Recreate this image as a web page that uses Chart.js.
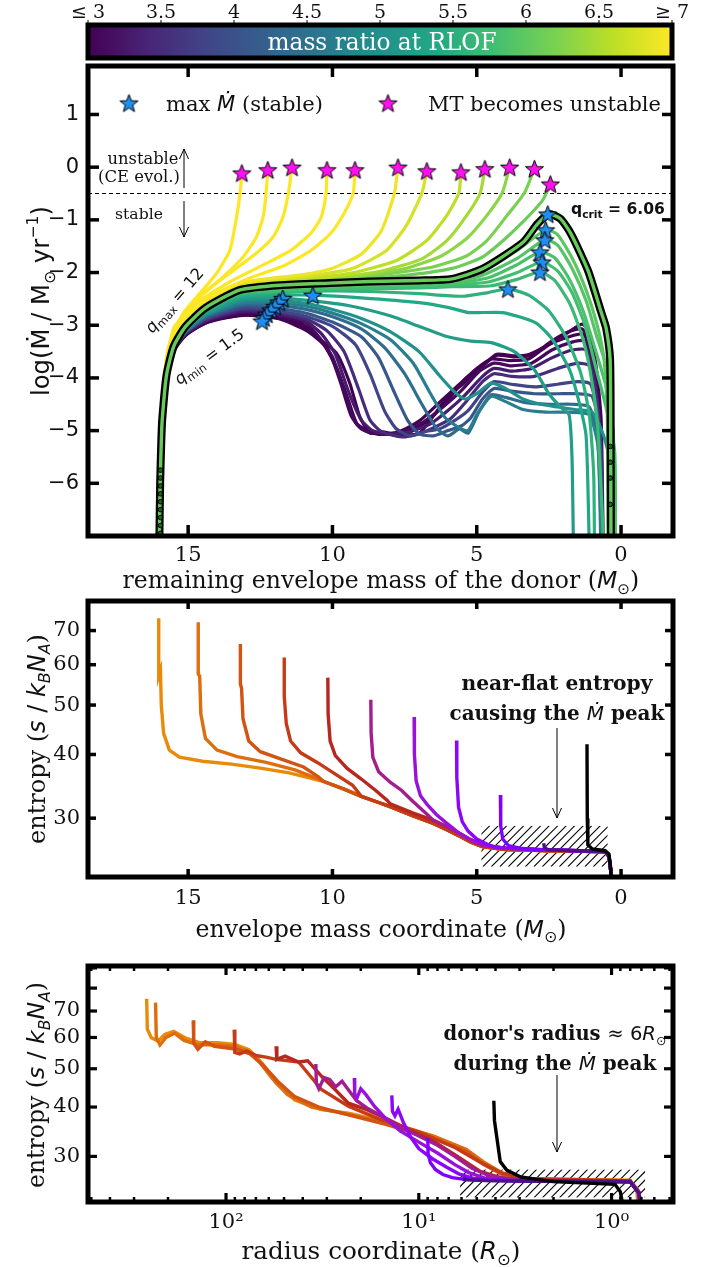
<!DOCTYPE html>
<html lang="en">
<head>
<meta charset="utf-8">
<title>Mass transfer rate and donor entropy</title>
<script src="https://cdn.jsdelivr.net/npm/chart.js@4.4.1/dist/chart.umd.min.js"></script>
<style>
  html, body { margin: 0; padding: 0; background: #fff; }
  #page { position: relative; width: 719px; height: 1267px; overflow: hidden; }
  #page canvas { position: absolute; left: 0; }
</style>
</head>
<body>
<div id="page">
  <canvas id="cbar" width="719" height="62" style="top:0px"></canvas>
  <canvas id="mdot" width="719" height="533" style="top:62px"></canvas>
  <canvas id="smass" width="719" height="350" style="top:595px"></canvas>
  <canvas id="srad" width="719" height="322" style="top:945px"></canvas>
</div>
<script>
// ---------------- colour bar ----------------
const cbarTicks = [3, 3.5, 4, 4.5, 5, 5.5, 6, 6.5, 7];
const cbarLabels = ['\u2264 3', '3.5', '4', '4.5', '5', '5.5', '6', '6.5', '\u2265 7'];

// ---------------- top panel: remaining envelope mass (Msun) vs log Mdot ----------------
// shared start of every track
const stem = [[16.0,-7.2],[15.97,-6.0],[15.93,-5.2]];

// unstable tracks (end where MT becomes unstable)
const trU1 = [[15.9,-4.65],[15.75,-3.6],[15.57,-3.22],[15.17,-2.77],[14.59,-2.39],[14.01,-2.01],[13.55,-1.57],[13.32,-0.94],[13.2,-0.5],[13.14,-0.11]];
const trU2 = [[15.9,-4.67],[15.75,-3.68],[15.5,-3.05],[15.28,-2.9],[14.7,-2.52],[13.78,-2.08],[13.09,-1.7],[12.63,-1.32],[12.4,-0.94],[12.3,-0.5],[12.24,-0.05]];
const trU3 = [[15.9,-4.69],[15.75,-3.72],[15.5,-3.2],[15.17,-2.84],[14.48,-2.39],[13.55,-2.01],[12.63,-1.63],[12.05,-1.32],[11.71,-0.94],[11.53,-0.5],[11.4,0.0]];
const trU4 = [[15.9,-4.71],[15.75,-3.76],[15.5,-3.25],[15.1,-2.9],[14.68,-2.58],[13.53,-2.17],[12.38,-1.85],[11.44,-1.58],[10.74,-1.25],[10.39,-0.95],[10.22,-0.49],[10.19,-0.05]];
const trU5 = [[15.9,-4.73],[15.75,-3.8],[15.5,-3.3],[15.1,-2.95],[14.33,-2.49],[12.94,-2.12],[11.68,-1.87],[10.74,-1.58],[10.05,-1.25],[9.59,-0.87],[9.28,-0.49],[9.22,-0.05]];
const trU6 = [[15.9,-4.75],[15.75,-3.86],[15.5,-3.32],[15.1,-2.97],[14.4,-2.55],[13.2,-2.2],[12.0,-2.1],[11.0,-2.04],[10.05,-1.93],[9.0,-1.65],[8.3,-1.2],[7.85,-0.49],[7.73,0.0]];
const trU7 = [[15.9,-4.76],[15.75,-3.88],[15.5,-3.34],[15.1,-2.98],[14.4,-2.57],[13.2,-2.23],[12.0,-2.13],[11.0,-2.08],[9.35,-1.93],[8.13,-1.58],[7.43,-1.1],[6.9,-0.49],[6.73,-0.07]];
const trU8 = [[15.9,-4.77],[15.75,-3.9],[15.5,-3.35],[15.1,-2.99],[14.4,-2.59],[13.2,-2.25],[12.0,-2.15],[11.0,-2.12],[9.35,-2.01],[7.78,-1.77],[6.73,-1.39],[6.03,-0.91],[5.62,-0.49],[5.55,-0.09]];
const trU9 = [[15.9,-4.78],[15.75,-3.91],[15.5,-3.36],[15.1,-3.0],[14.4,-2.61],[13.2,-2.27],[12.0,-2.17],[10.05,-2.1],[8.3,-1.97],[6.9,-1.74],[6.03,-1.39],[5.34,-0.91],[4.88,-0.49],[4.72,-0.03]];
const trU10 = [[15.9,-4.78],[15.75,-3.92],[15.5,-3.37],[15.1,-3.01],[14.4,-2.62],[13.2,-2.29],[12.0,-2.19],[9.35,-2.08],[7.6,-1.94],[6.21,-1.68],[5.34,-1.35],[4.64,-0.91],[4.12,-0.49],[3.86,0.0]];
const trU11 = [[15.9,-4.79],[15.75,-3.93],[15.5,-3.38],[15.1,-3.02],[14.4,-2.64],[13.2,-2.3],[12.0,-2.2],[10.0,-2.14],[8.3,-2.04],[6.56,-1.9],[5.34,-1.68],[4.64,-1.39],[3.94,-0.91],[3.35,-0.49],[3.0,-0.03]];
const trU12 = [[15.9,-4.79],[15.75,-3.94],[15.5,-3.39],[15.1,-3.02],[14.4,-2.65],[13.2,-2.31],[12.0,-2.21],[10.0,-2.16],[7.6,-2.06],[5.86,-1.92],[4.81,-1.71],[4.12,-1.41],[3.42,-1.05],[2.72,-0.63],[2.45,-0.32]];

// critical track, q_crit = 6.06
const qCrit = 6.06;
const trCrit = [[15.9,-4.8],[15.75,-3.95],[15.5,-3.4],[15.1,-3.03],[14.4,-2.67],[13.2,-2.33],[11.82,-2.24],[10.09,-2.2],[8.7,-2.17],[7.0,-2.15],[5.86,-2.12],[4.8,-1.93],[3.4,-1.43],[2.9,-1.08],[2.5,-0.89],[2.1,-0.98],[1.73,-1.27],[1.14,-1.97],[0.69,-2.75],[0.52,-3.05],[0.38,-3.64],[0.36,-5.0],[0.35,-7.2]];

// stable tracks
const trS1 = [[15.9,-4.81],[15.75,-3.96],[15.5,-3.4],[15.1,-3.04],[14.4,-2.68],[13.2,-2.35],[11.82,-2.27],[10.09,-2.23],[8.7,-2.2],[7.0,-2.18],[5.86,-2.15],[4.8,-1.98],[3.6,-1.58],[2.61,-1.19],[2.2,-1.28],[1.7,-1.72],[1.2,-2.35],[0.85,-2.95],[0.6,-3.6],[0.48,-4.6],[0.45,-7.2]];
const trS2 = [[15.9,-4.81],[15.75,-3.96],[15.5,-3.41],[15.1,-3.04],[14.4,-2.69],[13.2,-2.36],[11.82,-2.29],[10.09,-2.26],[8.7,-2.23],[7.0,-2.21],[5.86,-2.18],[4.8,-2.05],[3.6,-1.73],[2.64,-1.38],[2.2,-1.48],[1.7,-1.92],[1.2,-2.55],[0.85,-3.2],[0.5,-3.8],[0.32,-4.6],[0.3,-7.2]];
const trS3 = [[15.9,-4.82],[15.75,-3.96],[15.5,-3.41],[15.1,-3.05],[14.4,-2.7],[13.2,-2.37],[11.82,-2.31],[10.09,-2.28],[8.7,-2.25],[7.0,-2.23],[5.86,-2.21],[4.6,-2.1],[3.6,-1.85],[2.81,-1.61],[2.3,-1.72],[1.8,-2.12],[1.3,-2.75],[0.9,-3.45],[0.5,-4.2],[0.27,-5.0],[0.25,-7.2]];
const trS4 = [[15.9,-4.82],[15.75,-3.97],[15.5,-3.41],[15.1,-3.05],[14.4,-2.71],[13.2,-2.39],[11.82,-2.33],[10.09,-2.3],[8.7,-2.28],[7.0,-2.26],[5.86,-2.24],[4.6,-2.18],[3.6,-2.0],[2.74,-1.8],[2.2,-1.97],[1.7,-2.38],[1.25,-3.0],[0.9,-3.75],[0.5,-4.6],[0.22,-5.4],[0.2,-7.2]];
const trS5 = [[15.9,-4.83],[15.75,-3.97],[15.5,-3.42],[15.1,-3.06],[14.4,-2.71],[13.2,-2.4],[11.82,-2.35],[10.09,-2.32],[8.7,-2.31],[7.0,-2.29],[5.86,-2.27],[4.5,-2.25],[3.6,-2.13],[2.81,-1.99],[2.3,-2.15],[1.75,-2.62],[1.3,-3.3],[1.0,-4.1],[0.8,-5.0],[0.6,-7.2]];
const trS6 = [[15.9,-4.84],[15.75,-3.98],[15.5,-3.42],[15.1,-3.06],[14.4,-2.73],[13.2,-2.43],[11.82,-2.38],[10.09,-2.35],[8.7,-2.36],[7.0,-2.4],[5.5,-2.45],[4.6,-2.38],[3.92,-2.31],[3.2,-2.43],[2.5,-2.73],[1.9,-3.23],[1.4,-3.9],[1.1,-4.7],[0.95,-5.8],[0.92,-7.2]];
const trT3 = [[15.9,-4.85],[15.75,-3.99],[15.5,-3.43],[15.1,-3.08],[14.4,-2.75],[13.2,-2.46],[11.82,-2.43],[10.68,-2.43],[9.0,-2.48],[7.0,-2.57],[6.0,-2.66],[5.28,-2.76],[4.1,-2.76],[2.97,-2.95],[2.38,-3.27],[1.79,-3.84],[1.45,-4.47],[1.21,-5.11],[1.1,-7.2]];
const trT2 = [[15.9,-4.87],[15.75,-4.0],[15.5,-3.44],[15.1,-3.09],[14.4,-2.78],[13.2,-2.5],[11.99,-2.47],[11.0,-2.52],[9.5,-2.62],[8.0,-2.82],[7.0,-3.02],[6.0,-3.22],[5.2,-3.3],[4.5,-3.33],[3.7,-3.5],[3.0,-3.85],[2.5,-4.3],[2.1,-4.55],[1.8,-4.7],[1.7,-5.5],[1.65,-7.2]];
const trT1 = [[15.9,-4.88],[15.75,-4.01],[15.5,-3.44],[15.1,-3.1],[14.4,-2.8],[13.2,-2.54],[12.13,-2.52],[11.0,-2.58],[10.0,-2.7],[9.0,-2.87],[8.0,-3.12],[7.0,-3.5],[6.3,-3.95],[5.8,-4.25],[5.4,-4.4],[5.0,-4.3],[4.5,-4.1],[4.0,-4.2],[3.4,-4.4],[2.8,-4.5],[2.2,-4.55],[1.6,-4.6],[1.0,-4.65],[0.6,-5.1],[0.3,-5.8],[0.27,-7.2]];
const trB1 = [[15.9,-4.9],[15.75,-4.03],[15.5,-3.45],[15.1,-3.12],[14.4,-2.82],[13.2,-2.58],[12.27,-2.56],[11.0,-2.63],[10.0,-2.77],[9.0,-2.97],[8.0,-3.27],[7.2,-3.72],[6.6,-4.3],[6.1,-4.75],[5.6,-4.95],[5.3,-5.0],[5.0,-4.7],[4.5,-4.35],[4.0,-4.45],[3.4,-4.6],[2.6,-4.65],[1.8,-4.65],[1.1,-4.7],[0.8,-5.3],[0.7,-7.2]];
const trP9 = [[15.9,-4.91],[15.75,-4.04],[15.5,-3.46],[15.1,-3.13],[14.4,-2.84],[13.2,-2.61],[12.37,-2.6],[11.0,-2.69],[10.0,-2.84],[9.0,-3.07],[8.2,-3.42],[7.5,-3.92],[6.9,-4.5],[6.4,-4.95],[6.0,-5.1],[5.6,-4.97],[5.3,-5.05],[4.9,-4.62],[4.5,-4.32],[4.0,-4.37],[3.3,-4.47],[2.5,-4.5],[1.7,-4.5],[1.1,-4.55],[0.8,-5.2],[0.68,-7.2]];
const trP8 = [[15.9,-4.93],[15.75,-4.05],[15.5,-3.46],[15.1,-3.14],[14.4,-2.86],[13.2,-2.64],[12.44,-2.64],[11.0,-2.76],[10.0,-2.94],[9.0,-3.22],[8.4,-3.62],[7.9,-4.22],[7.4,-4.8],[7.0,-5.06],[6.5,-5.1],[6.0,-5.0],[5.5,-4.9],[5.2,-4.75],[4.8,-4.4],[4.4,-4.2],[3.8,-4.25],[3.0,-4.3],[2.2,-4.3],[1.5,-4.3],[1.0,-4.35],[0.75,-5.0],[0.65,-7.2]];
const trP7 = [[15.9,-4.94],[15.75,-4.06],[15.5,-3.47],[15.1,-3.15],[14.4,-2.88],[13.2,-2.68],[12.5,-2.68],[11.0,-2.82],[10.0,-3.02],[9.2,-3.37],[8.7,-3.92],[8.2,-4.62],[7.8,-4.96],[7.3,-5.1],[6.8,-5.02],[6.3,-4.97],[5.8,-4.82],[5.3,-4.62],[4.8,-4.27],[4.4,-4.07],[3.8,-4.12],[3.0,-4.17],[2.2,-4.12],[1.5,-4.07],[1.05,-4.12],[0.8,-4.8],[0.65,-7.2]];
const trP6 = [[15.9,-4.96],[15.75,-4.07],[15.5,-3.48],[15.1,-3.16],[14.4,-2.9],[13.2,-2.71],[12.6,-2.71],[11.0,-2.86],[10.2,-3.1],[9.6,-3.5],[9.1,-4.2],[8.7,-4.8],[8.3,-5.02],[7.6,-5.12],[7.0,-5.06],[6.4,-4.92],[5.9,-4.77],[5.4,-4.47],[4.8,-4.07],[4.4,-3.92],[3.8,-3.97],[3.0,-3.97],[2.2,-3.82],[1.5,-3.72],[1.1,-3.77],[0.85,-4.4],[0.68,-5.5],[0.63,-7.2]];
const trP5 = [[15.9,-4.97],[15.75,-4.08],[15.5,-3.48],[15.1,-3.17],[14.4,-2.92],[13.2,-2.74],[12.6,-2.74],[11.0,-2.9],[10.4,-3.15],[9.9,-3.55],[9.45,-4.25],[9.0,-4.8],[8.6,-5.0],[8.0,-5.07],[7.3,-5.02],[6.6,-4.87],[6.0,-4.62],[5.4,-4.32],[4.8,-3.97],[4.4,-3.82],[3.8,-3.87],[3.1,-3.82],[2.4,-3.62],[1.7,-3.47],[1.2,-3.47],[0.9,-4.1],[0.7,-5.3],[0.64,-7.2]];
const trP4 = [[15.9,-4.98],[15.75,-4.08],[15.5,-3.49],[15.1,-3.18],[14.4,-2.94],[13.2,-2.77],[12.7,-2.77],[11.0,-2.93],[10.5,-3.2],[10.0,-3.6],[9.55,-4.3],[9.2,-4.85],[8.8,-5.02],[8.2,-5.07],[7.5,-5.02],[6.8,-4.82],[6.1,-4.52],[5.5,-4.22],[4.9,-3.87],[4.4,-3.72],[3.8,-3.77],[3.1,-3.72],[2.4,-3.47],[1.7,-3.32],[1.25,-3.3],[0.95,-3.8],[0.72,-5.0],[0.64,-7.2]];
const trP3 = [[15.9,-4.99],[15.75,-4.09],[15.5,-3.49],[15.1,-3.19],[14.4,-2.95],[13.2,-2.79],[12.8,-2.79],[11.2,-2.93],[10.6,-3.17],[10.1,-3.52],[9.7,-4.12],[9.35,-4.72],[9.0,-4.97],[8.4,-5.07],[7.7,-5.02],[7.0,-4.82],[6.3,-4.47],[5.6,-4.12],[5.0,-3.82],[4.5,-3.64],[3.9,-3.67],[3.2,-3.64],[2.5,-3.37],[1.8,-3.22],[1.3,-3.17],[1.0,-3.57],[0.75,-4.8],[0.64,-7.2]];
const trP2 = [[15.9,-4.99],[15.75,-4.1],[15.5,-3.5],[15.1,-3.2],[14.4,-2.96],[13.2,-2.81],[12.9,-2.81],[11.83,-2.88],[10.9,-3.1],[10.3,-3.37],[9.85,-3.82],[9.45,-4.42],[9.15,-4.87],[8.7,-5.02],[8.0,-5.07],[7.3,-5.02],[6.6,-4.77],[6.0,-4.42],[5.4,-4.02],[4.8,-3.77],[4.3,-3.57],[3.7,-3.6],[3.1,-3.57],[2.4,-3.3],[1.8,-3.12],[1.35,-3.07],[1.05,-3.37],[0.8,-4.5],[0.64,-7.2]];
const trP1 = [[15.9,-5.0],[15.75,-4.1],[15.52,-3.47],[14.94,-3.12],[14.13,-2.9],[12.97,-2.81],[12.05,-2.84],[11.24,-2.96],[10.55,-3.22],[9.86,-3.53],[9.4,-4.1],[9.05,-4.74],[8.7,-5.05],[8.3,-5.02],[7.7,-5.08],[7.0,-5.05],[6.5,-4.72],[6.0,-4.35],[5.45,-4.1],[4.76,-3.75],[4.31,-3.55],[3.72,-3.58],[3.17,-3.55],[2.48,-3.36],[1.79,-3.12],[1.34,-2.98],[1.1,-3.13],[0.86,-3.8],[0.69,-4.8],[0.62,-7.2]];

// mass ratio at RLOF of each track (same order as trackPts)
const trackQ = [12, 10, 9, 8, 7.2, 6.9, 6.75, 6.6, 6.45, 6.3, 6.2, 6.1,
                5.98, 5.92, 5.85, 5.78, 5.7, 5.55, 5.4, 5.2, 5.0, 4.7,
                4.4, 4.1, 3.8, 3.5, 3.3, 3.1, 2.8, 2.3, 1.5];
const trackPts = [trU1, trU2, trU3, trU4, trU5, trU6, trU7, trU8, trU9, trU10, trU11, trU12,
                  trS1, trS2, trS3, trS4, trS5, trS6, trT3, trT2, trT1, trB1,
                  trP9, trP8, trP7, trP6, trP5, trP4, trP3, trP2, trP1];

// star markers
const maxMdotM   = [2.54, 2.61, 2.64, 2.81, 2.74, 2.81, 3.92, 10.68, 11.72, 11.85, 11.99, 12.13, 12.27, 12.37, 12.44];
const maxMdotLog = [-0.89, -1.19, -1.38, -1.61, -1.80, -1.99, -2.31, -2.43, -2.49, -2.56, -2.64, -2.71, -2.79, -2.86, -2.92];
const unstableM   = [13.14, 12.24, 11.40, 10.19, 9.22, 7.73, 6.73, 5.55, 4.72, 3.86, 3.00, 2.45];
const unstableLog = [-0.11, -0.05, 0.00, -0.05, -0.05, 0.00, -0.07, -0.09, -0.03, 0.00, -0.03, -0.32];

// dotted ends of the critical track
const dotsStartY = [-5.75, -5.9, -6.05, -6.2, -6.35, -6.5, -6.65, -6.8, -6.95];
const dotsEndY = [-5.3, -5.6, -5.9, -6.4];

// ---------------- middle panel: envelope mass coordinate vs entropy ----------------
const massTailLow  = [[10.3,35.4],[9.6,34.2],[9.0,33.1],[8.4,32.2],[8.0,31.6],[7.2,30.3],[6.5,29.3],[6.0,28.4],[5.5,27.5],[5.2,26.9],[4.8,26.4],[4.3,26.15],[4.0,26.05],[3.0,25.95],[2.5,25.9],[1.5,25.85],[0.55,25.75],[0.42,25.2],[0.35,23.5],[0.32,21.0]];
const massTailHigh = [[10.3,35.7],[9.6,34.6],[9.0,33.5],[8.4,32.6],[8.0,32.0],[7.2,30.7],[6.5,29.7],[6.0,28.8],[5.5,27.8],[5.2,27.2],[4.8,26.6],[4.3,26.3],[4.0,26.2],[3.0,26.05],[2.5,26.0],[1.5,25.9],[0.55,25.8],[0.42,25.3],[0.35,23.5],[0.32,21.0]];
const prM1 = [[16.02,74],[16.02,57],[15.96,58.5],[15.93,50],[15.85,44],[15.65,40.8],[15.3,39.5],[14.5,38.8],[13.5,38.3],[12.5,37.6],[11.5,36.8],[10.8,36.0]];
const prM2 = [[14.65,72.7],[14.65,57.5],[14.6,57],[14.56,48],[14.4,43],[14.0,40.8],[13.3,39.6],[12.3,38.6],[11.3,37.3],[10.6,36.0]];
const prM3 = [[13.19,65.9],[13.19,55],[13.15,54],[13.1,47],[12.9,42.5],[12.5,40.5],[11.8,39.2],[11.0,37.8],[10.5,36.2]];
const prM4 = [[11.67,62],[11.67,52],[11.6,46],[11.45,42.5],[11.1,40.3],[10.5,38.5],[9.9,36.6],[9.3,34.8]];
const prM5 = [[10.16,56.6],[10.15,48],[10.08,42.5],[9.9,39.8],[9.5,37.6],[9.0,35.8],[8.5,34.0],[8.1,32.5]];
const prM6 = [[8.67,51.2],[8.66,44],[8.6,39.5],[8.4,37.0],[8.0,35.3],[7.6,34.0],[7.2,32.3],[6.8,30.8]];
const prM7 = [[7.17,47.4],[7.16,40],[7.1,35.5],[6.95,33.2],[6.7,31.8],[6.4,30.5],[6.1,29.5],[5.7,28.3]];
const prM8 = [[5.7,42.6],[5.69,36],[5.63,31.5],[5.5,29.5],[5.3,28.3],[5.0,27.3],[4.6,26.6]];
const prM9 = [[4.18,33.3],[4.17,29],[4.1,27.3],[3.9,26.5],[3.5,26.2]];
const prM10 = [[2.68,26.8],[2.66,26.3],[2.55,26.05]];
const prMCrit = [[1.18,41.9],[1.17,30],[1.15,26.6],[1.0,26.1],[0.55,25.9],[0.42,25.5],[0.36,24],[0.33,21]];
const hatchMass = [4.84, 0.47];
const hatchMassS = [24.1, 29.0];

// ---------------- bottom panel: radius coordinate (Rsun) vs entropy ----------------
const prR1 = [[258,75.2],[256,63],[244,59.9],[225,58.7],[208,61.1],[187,62.2],[163,59.9],[138,58.2],[111,58.2],[90,57.6],[76,55.9],[65,51.7],[55,46],[44,41.7],[32,39.4],[23.2,38.6],[14.2,36.5],[8.3,33.7],[5.66,31.2],[4.56,28.9],[3.67,27.2],[2.8,26.4],[1.24,26.2],[0.81,26.1],[0.74,24.7],[0.72,21]];
const prR2 = [[232,73.5],[230,60],[220,57.5],[205,60],[185,61.5],[165,59],[140,57.5],[112,57.5],[92,57],[78,55.5],[68,52.5],[58,47.5],[48,43],[36,40],[25,38.6],[15,36.6],[8.5,33.8],[5.7,31.3],[4.6,29],[3.7,27.2],[2.8,26.35],[1.24,26.15],[0.8,26.05],[0.73,24.6],[0.71,21]];
const prR3 = [[148,66.3],[147,58],[140,56],[128,58.5],[115,57],[100,56.5],[88,56],[75,54.5],[64,51],[54,46.5],[44,42.5],[33,40],[24,38.4],[15,36.2],[8.5,33.4],[5.7,30.9],[4.6,28.6],[3.7,27],[2.8,26.25],[1.24,26.1],[0.8,26],[0.72,24.4],[0.7,21]];
const prR4 = [[90.7,62.8],[90,55],[85,54.5],[78,55.5],[70,54],[62,53.5],[55,52.8],[42,52],[32,44.3],[23.2,40.2],[16,37.3],[10,34.6],[6.5,31.6],[4.8,29],[3.7,27.2],[2.7,26.3],[1.24,26.1],[0.8,26],[0.72,24.3],[0.7,21]];
const prR5 = [[55,57],[54.5,52.8],[49.4,53.8],[42,52],[37.7,52.4],[32,47.9],[27.2,44.3],[23.2,40.9],[18.6,39.4],[14.2,37.1],[10.8,34.7],[8.3,32.7],[6.3,30],[4.8,27.5],[3.67,26.4],[2.6,26.1],[1.24,26.05],[0.8,25.95],[0.72,24.3],[0.7,21]];
const prR6 = [[34.2,51.4],[34,46],[33,44.5],[31,47.5],[29,47],[27,45],[25,46.5],[23,44],[21,41.5],[18.6,39.8],[15,37.6],[12,35.2],[10,33.8],[8,32],[6.5,30],[5.3,28],[4.3,26.8],[3.4,26.3],[2.6,26.1],[1.24,26],[0.8,25.9],[0.72,24.2],[0.7,21]];
const prR7 = [[21.6,47.4],[21.5,43],[21,42],[20,44.5],[18.8,43],[17,40.2],[15,37.6],[12.5,34.8],[10,32.6],[8,30.6],[6.5,28.6],[5.5,27.3],[4.5,26.4],[3.5,26.1],[2.6,26],[1.24,25.95],[0.8,25.9],[0.72,24.2],[0.7,21]];
const prR8 = [[13.8,42.8],[13.7,39],[13.3,38],[12.8,39.5],[12,36.5],[11,33.5],[10,31.4],[8.5,29.6],[7.2,28.2],[6.2,27.1],[5.2,26.4],[4.3,26.15],[3.3,26.05],[2.6,26],[1.24,25.95],[0.8,25.9],[0.72,24.2],[0.7,21]];
const prR9 = [[8.98,33.4],[8.95,30.5],[8.7,28.9],[8.2,27.8],[7.5,27.0],[6.7,26.5],[5.8,26.25],[4.5,26.1],[2.6,26],[1.24,25.95],[0.8,25.9],[0.72,24.2],[0.7,21]];
const prR10 = [[5.82,26.6],[5.8,26.2],[4.5,26.05],[2.6,25.95],[1.24,25.9],[0.8,25.85],[0.72,24.2],[0.7,21]];
const prRCrit = [[4.08,41.5],[4.05,37],[4.0,35.4],[3.78,29.1],[3.5,27.7],[2.96,26.6],[2.0,25.9],[0.96,25.5],[0.9,24.4],[0.85,21]];
const hatchRad = [6.1, 0.67];
const hatchRadS = [23.6, 27.8];

// ---------------- helpers ----------------
const SERIF = "'DejaVu Serif', 'Liberation Serif', serif";
const SANS = "'DejaVu Sans', 'Liberation Sans', sans-serif";
const VIR = ['#440154','#482475','#414487','#355f8d','#2a788e','#21918c','#22a884','#44bf70','#7ad151','#bddf26','#fde725'];
const profColors = ['#e98a0b','#de6d0e','#d25312','#c63b17','#b7261f','#a41d90','#9a12d8','#8c06f7','#8000ff','#4a1480'];

function hexRgb(h) { return [1, 3, 5].map(k => parseInt(h.substr(k, 2), 16)); }
function viridis(t) {
  t = Math.max(0, Math.min(1, t));
  const f = t * 10, i = Math.min(9, Math.floor(f)), u = f - i;
  const a = hexRgb(VIR[i]), b = hexRgb(VIR[i + 1]);
  return 'rgb(' + a.map((v, k) => Math.round(v + (b[k] - v) * u)).join(',') + ')';
}
function qColor(q) { return viridis((q - 3) / 4); }
function xy(arr) { return arr.map(p => ({x: p[0], y: p[1]})); }
function lineSet(arr, color, width, tension) {
  return {data: xy(arr), showLine: true, borderColor: color, backgroundColor: color,
          borderWidth: width, pointRadius: 0, tension: tension || 0, fill: false};
}
function starImage(fill, r) {
  const c = document.createElement('canvas');
  const s = Math.ceil(2 * r + 4);
  c.width = s; c.height = s;
  const g = c.getContext('2d');
  g.translate(s / 2, s / 2 + r * 0.1);
  g.beginPath();
  for (let i = 0; i < 10; i++) {
    const rr = i % 2 ? r * 0.42 : r, ang = -Math.PI / 2 + i * Math.PI / 5;
    g.lineTo(rr * Math.cos(ang), rr * Math.sin(ang));
  }
  g.closePath();
  g.fillStyle = fill; g.fill();
  g.lineWidth = 1; g.strokeStyle = '#000'; g.stroke();
  return c;
}
const starBlue = starImage('#1f8ef0', 9.5);
const starPink = starImage('#ff10f0', 9.5);

// rich text: parts = [text, size, family, style, dy]
function rich(ctx, parts, x, y, o) {
  o = o || {};
  const fnt = (p, k) => (p[3] || '') + ' ' + (p[1] * k).toFixed(2) + 'px ' + p[2];
  let w = 0;
  parts.forEach(p => { ctx.font = fnt(p, 1); w += ctx.measureText(p[0]).width; });
  const k = o.width ? o.width / w : 1;
  const main = parts[0][1] * k;
  ctx.save();
  ctx.translate(x, y);
  if (o.angle) ctx.rotate(o.angle);
  ctx.fillStyle = o.color || '#111';
  ctx.textAlign = 'left';
  ctx.textBaseline = 'alphabetic';
  let cx = o.align === 'left' ? 0 : o.align === 'right' ? -w * k : -w * k / 2;
  parts.forEach(p => {
    ctx.font = fnt(p, k);
    ctx.fillText(p[0], cx, main * 0.36 + (p[4] || 0) * k);
    cx += ctx.measureText(p[0]).width;
  });
  ctx.restore();
}
function seg(ctx, x1, y1, x2, y2) { ctx.beginPath(); ctx.moveTo(x1, y1); ctx.lineTo(x2, y2); ctx.stroke(); }
function arrow(ctx, x, y0, y1) {
  ctx.save(); ctx.strokeStyle = '#000'; ctx.lineWidth = 1;
  seg(ctx, x, y0, x, y1);
  const d = y1 > y0 ? -1 : 1;
  seg(ctx, x, y1, x - 4.5, y1 + d * 10);
  seg(ctx, x, y1, x + 4.5, y1 + d * 10);
  ctx.restore();
}
function hatch(ctx, x0, y0, x1, y1, gap) {
  ctx.save();
  ctx.beginPath(); ctx.rect(x0, y0, x1 - x0, y1 - y0); ctx.clip();
  ctx.strokeStyle = '#000'; ctx.lineWidth = 1.1;
  const h = y1 - y0;
  for (let x = x0 - h; x < x1 + h; x += gap) seg(ctx, x, y1, x + h, y0);
  ctx.restore();
}
function frameTicks(chart, o) {
  const ctx = chart.ctx, a = chart.chartArea, xs = chart.scales.x, ys = chart.scales.y;
  ctx.save();
  ctx.strokeStyle = '#000';
  ctx.lineWidth = o.w;
  (o.xMajor || []).forEach(v => { const p = xs.getPixelForValue(v); seg(ctx, p, a.bottom, p, a.bottom - o.len); seg(ctx, p, a.top, p, a.top + o.len); });
  (o.yMajor || []).forEach(v => { const p = ys.getPixelForValue(v); seg(ctx, a.left, p, a.left + o.len, p); seg(ctx, a.right, p, a.right - o.len, p); });
  ctx.lineWidth = o.minorW || o.w;
  (o.xMinor || []).forEach(v => { const p = xs.getPixelForValue(v); seg(ctx, p, a.bottom, p, a.bottom - o.minorLen); seg(ctx, p, a.top, p, a.top + o.minorLen); });
  ctx.lineWidth = o.frame;
  ctx.strokeRect(a.left, a.top, a.right - a.left, a.bottom - a.top);
  ctx.restore();
}

const extras = {};
const decor = {
  id: 'decor',
  beforeDatasetsDraw(chart) { const e = extras[chart.canvas.id]; if (e && e.under) e.under(chart); },
  afterDatasetsDraw(chart) { const e = extras[chart.canvas.id]; if (e && e.over) e.over(chart); }
};

function fixedTicks(vals) { return s => { s.ticks = vals.map(v => ({value: v})); }; }
// force axis size and drop the label overhang padding so the plot box lands where we want it
function fixSize(dim, px) {
  return s => { s[dim] = px; s.paddingTop = 0; s.paddingBottom = 0; s.paddingLeft = 0; s.paddingRight = 0; };
}
function baseOptions(pad) {
  return {
    responsive: false, animation: false, devicePixelRatio: 1, events: [],
    layout: {padding: pad, autoPadding: false},
    plugins: {legend: {display: false}, tooltip: {enabled: false}}
  };
}
const tickFont = (fam, size) => ({font: {family: fam, size: size}, color: '#111', autoSkip: false, maxRotation: 0, minRotation: 0});

// ---------------- colour bar chart ----------------
extras.cbar = {
  over(chart) {
    const ctx = chart.ctx, a = chart.chartArea, xs = chart.scales.x;
    const g = ctx.createLinearGradient(a.left, 0, a.right, 0);
    VIR.forEach((c, i) => g.addColorStop(i / 10, c));
    ctx.save();
    ctx.fillStyle = g;
    ctx.fillRect(a.left, a.top, a.right - a.left, a.bottom - a.top);
    ctx.lineWidth = 5; ctx.strokeStyle = '#000';
    ctx.strokeRect(a.left, a.top, a.right - a.left, a.bottom - a.top);
    ctx.lineWidth = 1;
    cbarTicks.forEach(v => { const p = xs.getPixelForValue(v); seg(ctx, p, a.top - 2, p, a.top - 5); });
    ctx.restore();
    rich(ctx, [['mass ratio at RLOF', 21, SERIF]], 382, 42, {width: 229, color: '#fff'});
  }
};
new Chart(document.getElementById('cbar'), {
  type: 'scatter',
  data: {datasets: [{data: []}]},
  options: Object.assign(baseOptions({left: 88, right: 47, top: 0, bottom: 4}), {
    scales: {
      x: {type: 'linear', position: 'top', min: 3, max: 7,
          afterBuildTicks: fixedTicks(cbarTicks), afterFit: fixSize('height', 25),
          grid: {display: false, drawTicks: false}, border: {display: false},
          ticks: Object.assign(tickFont(SERIF, 19), {padding: 1,
            callback: v => cbarLabels[cbarTicks.indexOf(v)]})},
      y: {display: false, min: 0, max: 1}
    }
  }),
  plugins: [decor]
});

// ---------------- top panel chart ----------------
const topSets = [];
topSets.push({data: maxMdotM.map((m, i) => ({x: m, y: maxMdotLog[i]})), pointStyle: starBlue, pointRadius: 10, showLine: false});
topSets.push({data: unstableM.map((m, i) => ({x: m, y: unstableLog[i]})), pointStyle: starPink, pointRadius: 10, showLine: false});
topSets.push({data: dotsStartY.map(v => ({x: 15.96, y: v})).concat(dotsEndY.map(v => ({x: 0.37, y: v}))),
              pointRadius: 2.3, pointBackgroundColor: '#245c24', pointBorderColor: '#000', pointBorderWidth: 1, showLine: false});
topSets.push(lineSet(stem.concat(trCrit), qColor(qCrit), 3.4, 0.2));
topSets.push(lineSet(stem.concat(trCrit), '#000', 8, 0.2));
trackPts.forEach((pts, i) => topSets.push(lineSet(stem.concat(pts), qColor(trackQ[i]), 3.2, 0.2)));

extras.mdot = {
  under(chart) {
    const ctx = chart.ctx, a = chart.chartArea, ys = chart.scales.y;
    const yy = ys.getPixelForValue(-0.5);
    ctx.save(); ctx.setLineDash([4, 3]); ctx.lineWidth = 1.1; ctx.strokeStyle = '#000';
    seg(ctx, a.left, yy, a.right, yy); ctx.restore();
  },
  over(chart) {
    const ctx = chart.ctx;
    frameTicks(chart, {xMajor: [15, 10, 5, 0], yMajor: [-6, -5, -4, -3, -2, -1, 0, 1], len: 11, w: 3.5, frame: 5});
    // legend
    ctx.drawImage(starBlue, 129 - starBlue.width / 2, 41 - starBlue.height / 2);
    rich(ctx, [['max ', 19, SERIF], ['\u1E40', 19, SANS, 'italic'], [' (stable)', 19, SERIF]], 166, 41, {align: 'left', width: 157});
    ctx.drawImage(starPink, 388 - starPink.width / 2, 41 - starPink.height / 2);
    rich(ctx, [['MT becomes unstable', 19, SERIF]], 428, 41, {align: 'left', width: 233});
    // stability annotations
    rich(ctx, [['unstable', 15, SERIF]], 143, 96, {width: 71});
    rich(ctx, [['(CE evol.)', 15, SERIF]], 139, 114, {width: 82});
    rich(ctx, [['stable', 15, SERIF]], 139, 151, {width: 48});
    arrow(ctx, 184, 126, 87);
    arrow(ctx, 184, 139, 175);
    rich(ctx, [['q', 16, SANS, 'bold'], ['crit', 11, SANS, 'bold', 4], [' = 6.06', 16, SANS, 'bold']], 665, 146, {align: 'right', width: 94});
    rich(ctx, [['q', 17, SANS, 'italic'], ['max', 12, SANS, '', 4], [' = 12', 17, SANS]], 174, 238, {angle: -49 * Math.PI / 180, width: 80});
    rich(ctx, [['q', 17, SANS, 'italic'], ['min', 12, SANS, '', 4], [' = 1.5', 17, SANS]], 209, 294, {angle: -36.6 * Math.PI / 180, width: 82});
    // axis titles
    rich(ctx, [['remaining envelope mass of the donor (', 20, SERIF], ['M', 20, SANS, 'italic'], ['\u2299', 13, SANS, '', 5], [')', 20, SERIF]], 381, 518, {width: 517});
    rich(ctx, [['log(', 20, SANS], ['\u1E40', 20, SANS], [' / M', 20, SANS], ['\u2299', 13, SANS, '', 5], [' yr', 20, SANS], ['\u22121', 13, SANS, '', -9], [')', 20, SANS]], 40, 239, {angle: -Math.PI / 2, width: 190});
  }
};
new Chart(document.getElementById('mdot'), {
  type: 'scatter',
  data: {datasets: topSets},
  options: Object.assign(baseOptions({left: 0, right: 46, top: 4, bottom: 0}), {
    scales: {
      x: {type: 'linear', min: -1.8, max: 18.47, reverse: true,
          afterBuildTicks: fixedTicks([15, 10, 5, 0]), afterFit: fixSize('height', 59),
          grid: {display: false, drawTicks: false}, border: {display: false},
          ticks: Object.assign(tickFont(SERIF, 21), {padding: 7})},
      y: {type: 'linear', min: -7, max: 1.92,
          afterBuildTicks: fixedTicks([-6, -5, -4, -3, -2, -1, 0, 1]), afterFit: fixSize('width', 88),
          grid: {display: false, drawTicks: false}, border: {display: false},
          ticks: Object.assign(tickFont(SANS, 21), {padding: 9,
            callback: v => v < 0 ? '\u2212' + Math.abs(v) : String(v)})}
    }
  }),
  plugins: [decor]
});

// ---------------- middle panel chart ----------------
const massHeads = [prM1, prM2, prM3, prM4, prM5, prM6, prM7, prM8, prM9, prM10];
const midSets = [lineSet(prMCrit, '#000', 3.4)];
for (let i = massHeads.length - 1; i >= 0; i--) {
  const head = massHeads[i];
  const tail = (i < 4 ? massTailLow : massTailHigh).filter(p => p[0] < head[head.length - 1][0]);
  midSets.push(lineSet(head.concat(tail), profColors[i], 3.4));
}
extras.smass = {
  under(chart) {
    const xs = chart.scales.x, ys = chart.scales.y;
    hatch(chart.ctx, xs.getPixelForValue(hatchMass[0]), ys.getPixelForValue(hatchMassS[1]),
          xs.getPixelForValue(hatchMass[1]), ys.getPixelForValue(hatchMassS[0]), 8.5);
  },
  over(chart) {
    const ctx = chart.ctx;
    frameTicks(chart, {xMajor: [15, 10, 5, 0], yMajor: [30, 40, 50, 60, 70], len: 8, w: 3.5, frame: 5});
    rich(ctx, [['near-flat entropy', 17, SERIF, 'bold']], 557, 88, {width: 191});
    rich(ctx, [['causing the ', 17, SERIF, 'bold'], ['\u1E40', 17, SANS, 'italic'], [' peak', 17, SERIF, 'bold']], 557, 118, {width: 215});
    arrow(ctx, 557, 133, 223);
    rich(ctx, [['envelope mass coordinate (', 21, SERIF], ['M', 21, SANS, 'italic'], ['\u2299', 14, SANS, '', 5], [')', 21, SERIF]], 381, 333, {width: 371});
    rich(ctx, [['entropy (', 21, SERIF], ['s', 21, SANS, 'italic'], [' / ', 21, SANS], ['k', 21, SANS, 'italic'], ['B', 14, SANS, 'italic', 5], ['N', 21, SANS, 'italic'], ['A', 14, SANS, 'italic', 5], [')', 21, SERIF]], 36, 144, {angle: -Math.PI / 2, width: 210});
  }
};
new Chart(document.getElementById('smass'), {
  type: 'scatter',
  data: {datasets: midSets},
  options: Object.assign(baseOptions({left: 0, right: 46, top: 6, bottom: 0}), {
    scales: {
      x: {type: 'linear', min: -1.8, max: 18.47, reverse: true,
          afterBuildTicks: fixedTicks([15, 10, 5, 0]), afterFit: fixSize('height', 68),
          grid: {display: false, drawTicks: false}, border: {display: false},
          ticks: Object.assign(tickFont(SERIF, 21), {padding: 9})},
      y: {type: 'logarithmic', min: 23, max: 80,
          afterBuildTicks: fixedTicks([30, 40, 50, 60, 70]), afterFit: fixSize('width', 88),
          grid: {display: false, drawTicks: false}, border: {display: false},
          ticks: Object.assign(tickFont(SERIF, 21), {padding: 8, callback: v => String(v)})}
    }
  }),
  plugins: [decor]
});

// ---------------- bottom panel chart ----------------
const radProfiles = [prR1, prR2, prR3, prR4, prR5, prR6, prR7, prR8, prR9, prR10];
const botSets = [lineSet(prRCrit, '#000', 3.4)];
for (let i = radProfiles.length - 1; i >= 0; i--) botSets.push(lineSet(radProfiles[i], profColors[i], 3.4));
const radMinor = [0.5, 0.6, 0.7, 0.8, 0.9, 2, 3, 4, 5, 6, 7, 8, 9, 20, 30, 40, 50, 60, 70, 80, 90, 200, 300, 400, 500];
extras.srad = {
  under(chart) {
    const xs = chart.scales.x, ys = chart.scales.y;
    hatch(chart.ctx, xs.getPixelForValue(hatchRad[0]), ys.getPixelForValue(hatchRadS[1]),
          xs.getPixelForValue(hatchRad[1]), ys.getPixelForValue(hatchRadS[0]), 8.5);
  },
  over(chart) {
    const ctx = chart.ctx;
    frameTicks(chart, {xMajor: [100, 10, 1], xMinor: radMinor, yMajor: [30, 40, 50, 60, 70, 80, 90],
                       len: 9, minorLen: 5, w: 3.2, minorW: 2.5, frame: 5});
    rich(ctx, [["donor's radius ", 17, SERIF, 'bold'], ['\u2248 6', 17, SANS], ['R', 17, SANS, 'italic'], ['\u2299', 11, SANS, '', 4]], 555, 88, {width: 223});
    rich(ctx, [['during the ', 17, SERIF, 'bold'], ['\u1E40', 17, SANS, 'italic'], [' peak', 17, SERIF, 'bold']], 555, 118, {width: 203});
    arrow(ctx, 557, 130, 207);
    rich(ctx, [['radius coordinate (', 21, SERIF], ['R', 21, SANS, 'italic'], ['\u2299', 14, SANS, '', 5], [')', 21, SERIF]], 381, 305, {width: 279});
    rich(ctx, [['entropy (', 21, SERIF], ['s', 21, SANS, 'italic'], [' / ', 21, SANS], ['k', 21, SANS, 'italic'], ['B', 14, SANS, 'italic', 5], ['N', 21, SANS, 'italic'], ['A', 14, SANS, 'italic', 5], [')', 21, SERIF]], 36, 140, {angle: -Math.PI / 2, width: 206});
  }
};
const powLabels = {100: '10\u00B2', 10: '10\u00B9', 1: '10\u2070'};
new Chart(document.getElementById('srad'), {
  type: 'scatter',
  data: {datasets: botSets},
  options: Object.assign(baseOptions({left: 0, right: 46, top: 21, bottom: 0}), {
    scales: {
      x: {type: 'logarithmic', min: 0.48, max: 520, reverse: true,
          afterBuildTicks: fixedTicks([100, 10, 1]), afterFit: fixSize('height', 65),
          grid: {display: false, drawTicks: false}, border: {display: false},
          ticks: Object.assign(tickFont(SERIF, 21), {padding: 8, callback: v => powLabels[v] || ''})},
      y: {type: 'logarithmic', min: 23, max: 91,
          afterBuildTicks: fixedTicks([30, 40, 50, 60, 70, 80, 90]), afterFit: fixSize('width', 88),
          grid: {display: false, drawTicks: false}, border: {display: false},
          ticks: Object.assign(tickFont(SERIF, 21), {padding: 8, callback: v => v <= 70 ? String(v) : ''})}
    }
  }),
  plugins: [decor]
});
</script>
</body>
</html>
